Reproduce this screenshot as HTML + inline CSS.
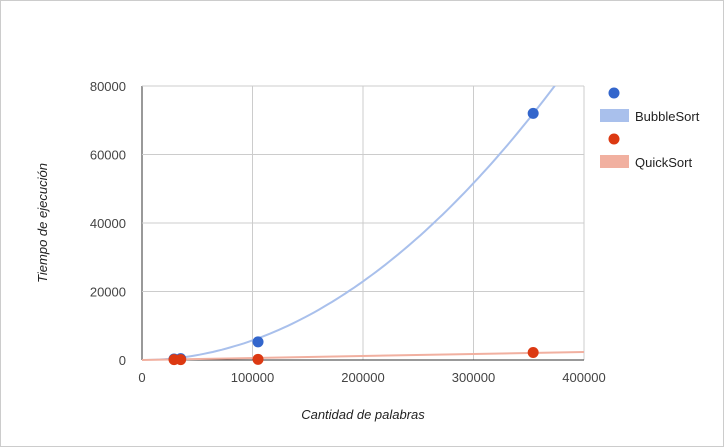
<!DOCTYPE html>
<html><head><meta charset="utf-8"><style>
body{margin:0;background:#fff;font-family:"Liberation Sans",sans-serif}
#frame{position:absolute;left:0;top:0;width:722px;height:445px;border:1px solid #ccc}
</style></head><body>
<div id="frame"></div>
<svg id="chart" width="724" height="447" style="position:absolute;left:0;top:0"></svg>
<script>
const xTicks=[0,100000,200000,300000,400000];
const yTicks=[0,20000,40000,60000,80000];
const bubbleX=[29000,35000,105000,354000];
const bubbleY=[300,400,5300,72000];
const quickX=[29000,35000,105000,354000];
const quickY=[100,100,200,2200];
const L=142,R=584,T=86,B=360;
const sx=v=>L+(v-0)/400000*(R-L);
const sy=v=>B-(v/80000)*(B-T);
const svg=document.getElementById('chart');
const NS='http://www.w3.org/2000/svg';
function mk(t,a,p){const e=document.createElementNS(NS,t);for(const k in a)e.setAttribute(k,a[k]);(p||svg).appendChild(e);return e;}
xTicks.forEach((v,i)=>{
 const g=mk('line',{x1:sx(v),x2:sx(v),y1:T,y2:B,stroke:i==0?'#333':'#ccc','stroke-width':1});
 
 
 const t=mk('text',{x:sx(v),y:382,'text-anchor':'middle','font-size':13,fill:'#444'});t.textContent=v;
 
 
});
yTicks.forEach((v,i)=>{
 const g=mk('line',{x1:L,x2:R,y1:sy(v),y2:sy(v),stroke:i==0?'#333':'#ccc','stroke-width':1});
 
 
 const t=mk('text',{x:126,y:sy(v)+5,'text-anchor':'end','font-size':13,fill:'#444'});t.textContent=v;
 
 
});
// trendlines
let num=0,den=0;bubbleX.forEach((x,i)=>{num+=x*x*bubbleY[i];den+=x**4;});const a=num/den;
let n2=0,d2=0;quickX.forEach((x,i)=>{n2+=x*quickY[i];d2+=x*x;});const b=n2/d2;
mk('defs',{}).innerHTML='<clipPath id="cp"><rect x="'+L+'" y="'+T+'" width="'+(R-L)+'" height="'+(B-T)+'"/></clipPath>';
let d='';for(let x=0;x<=400000;x+=4000){d+=(x?'L':'M')+sx(x).toFixed(1)+','+sy(a*x*x).toFixed(1);}
const bt=mk('path',{d:d,fill:'none',stroke:'#a9c0ec','stroke-width':2,'clip-path':'url(#cp)'});


const qt=mk('line',{x1:sx(0),y1:sy(0),x2:sx(400000),y2:sy(b*400000),stroke:'#f1b0a0','stroke-width':2});


bubbleX.forEach((x,i)=>{const c=mk('circle',{cx:sx(x),cy:sy(bubbleY[i]),r:5.5,fill:'#3366cc'});
 
 });
quickX.forEach((x,i)=>{const c=mk('circle',{cx:sx(x),cy:sy(quickY[i]),r:5.5,fill:'#dc3912'});
 
 });
// legend
const lg=[['#3366cc','#a9c0ec','BubbleSort',93],['#dc3912','#f1b0a0','QuickSort',139]];
lg.forEach(([c1,c2,lab,y])=>{
 const c=mk('circle',{cx:614,cy:y,r:5.5,fill:c1});
 
 
 const r=mk('rect',{x:600,y:y+16,width:29,height:13,fill:c2});
 
 
 const t=mk('text',{x:635,y:y+28,'font-size':13,fill:'#222'});t.textContent=lab;
 
 
});
const xt=mk('text',{x:363,y:419,'text-anchor':'middle','font-size':13,'font-style':'italic',fill:'#222'});xt.textContent='Cantidad de palabras';


const yt=mk('text',{x:0,y:0,'text-anchor':'middle','font-size':13,'font-style':'italic',fill:'#222',transform:'translate(47,223) rotate(-90)'});yt.textContent='Tiempo de ejecución';


</script>
</body></html>
